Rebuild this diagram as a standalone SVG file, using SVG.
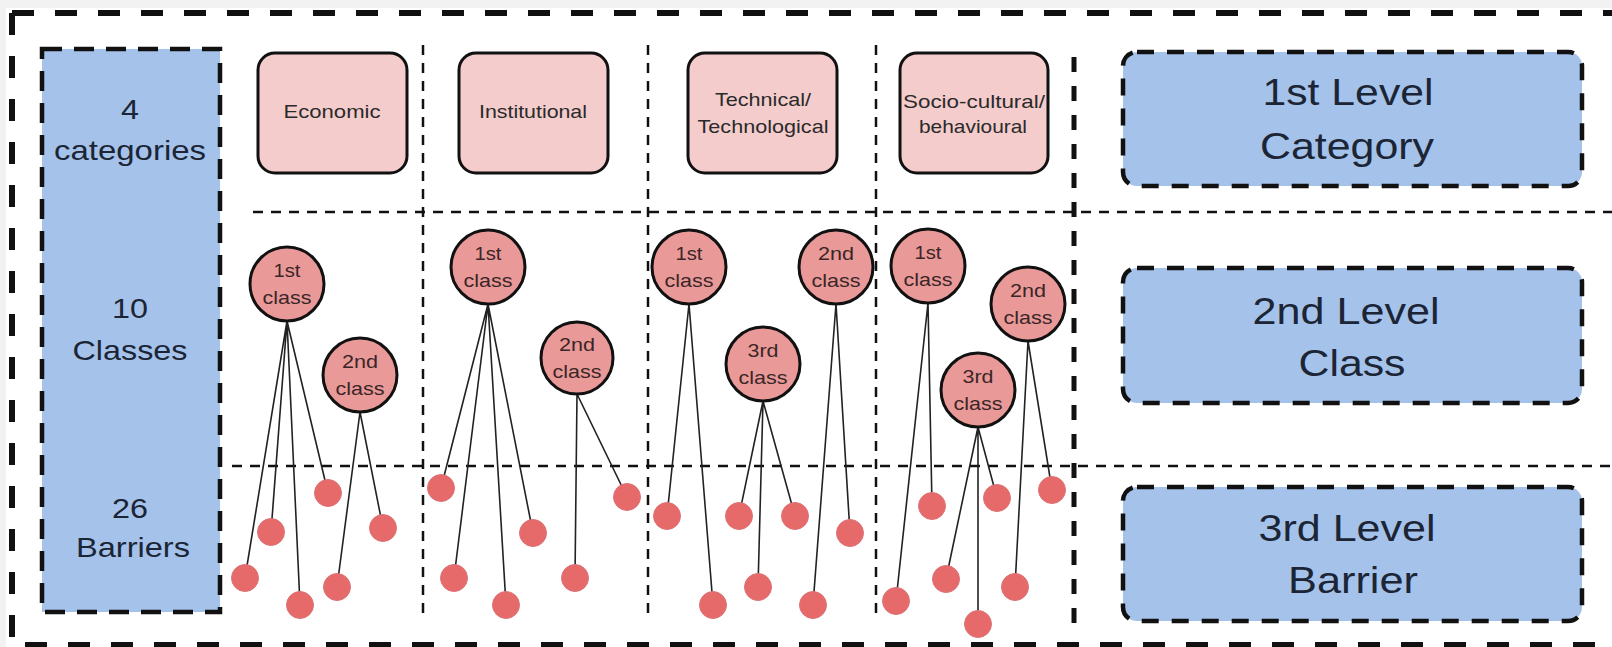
<svg xmlns="http://www.w3.org/2000/svg" width="1612" height="647" viewBox="0 0 1612 647">
<style>
.bg{fill:#f2f2f2}
.outer{fill:none;stroke:#111;stroke-width:6;stroke-dasharray:22 21}
.lbox{fill:#a4c2ea;stroke:#111;stroke-width:4.5;stroke-dasharray:20 12}
.rbox{fill:#a4c2ea;stroke:#111;stroke-width:4.5;stroke-dasharray:17 13}
.div{fill:none;stroke:#111;stroke-width:2.5;stroke-dasharray:10 8}
.thick{fill:none;stroke:#111;stroke-width:5;stroke-dasharray:15 14}
.cat{fill:#f4cccc;stroke:#111;stroke-width:3}
.cls{fill:#ea9999;stroke:#111;stroke-width:3}
.dot{fill:#e66a6a;stroke:#dc7378;stroke-width:1}
.edge{stroke:#222;stroke-width:1.6;fill:none}
text{font-family:"Liberation Sans",Arial,sans-serif;text-anchor:middle}
.big{font-size:28px;fill:#1c2535}
.lvl{font-size:37px;fill:#1c2535}
.ct{font-size:19px;fill:#2a2a2a}
.cl{font-size:19px;fill:#3a2626}
</style>
<rect class="bg" x="0" y="0" width="1612" height="647"/>
<rect x="6" y="8" width="1606" height="639" fill="#ffffff"/>

<g id="frame">
<path class="outer" d="M12,13 H1640 M12,13 V645 H1640"/>
<path class="div" d="M423,45 V620 M648,45 V620 M876,45 V620"/>
<path class="div" d="M253,212 H1612 M232,466 H1612"/>
<path class="thick" d="M1074,57 V632"/>
</g>

<g id="left-summary">
<rect class="lbox" x="42" y="49" width="178" height="563"/>
<text class="big" x="130" y="119" textLength="18" lengthAdjust="spacingAndGlyphs">4</text>
<text class="big" x="130" y="160" textLength="152" lengthAdjust="spacingAndGlyphs">categories</text>
<text class="big" x="130" y="318" textLength="36" lengthAdjust="spacingAndGlyphs">10</text>
<text class="big" x="130" y="360" textLength="115" lengthAdjust="spacingAndGlyphs">Classes</text>
<text class="big" x="130" y="518" textLength="36" lengthAdjust="spacingAndGlyphs">26</text>
<text class="big" x="133" y="557" textLength="114" lengthAdjust="spacingAndGlyphs">Barriers</text>
</g>

<g id="level1">
<rect class="rbox" x="1123" y="52" width="459" height="134" rx="14"/>
<text class="lvl" x="1348" y="105" textLength="171" lengthAdjust="spacingAndGlyphs">1st Level</text>
<text class="lvl" x="1347" y="159" textLength="174" lengthAdjust="spacingAndGlyphs">Category</text>
</g>
<g id="level2">
<rect class="rbox" x="1123" y="268" width="459" height="135" rx="14"/>
<text class="lvl" x="1346" y="324" textLength="187" lengthAdjust="spacingAndGlyphs">2nd Level</text>
<text class="lvl" x="1352" y="376" textLength="107" lengthAdjust="spacingAndGlyphs">Class</text>
</g>
<g id="level3">
<rect class="rbox" x="1123" y="487" width="459" height="134" rx="14"/>
<text class="lvl" x="1347" y="541" textLength="177" lengthAdjust="spacingAndGlyphs">3rd Level</text>
<text class="lvl" x="1353" y="593" textLength="130" lengthAdjust="spacingAndGlyphs">Barrier</text>
</g>

<g id="cat-economic">
<rect class="cat" x="258" y="53" width="149" height="120" rx="17"/>
<text class="ct" x="332" y="118" textLength="97" lengthAdjust="spacingAndGlyphs">Economic</text>
</g>
<g id="cat-institutional">
<rect class="cat" x="459" y="53" width="149" height="120" rx="17"/>
<text class="ct" x="533" y="118" textLength="108" lengthAdjust="spacingAndGlyphs">Institutional</text>
</g>
<g id="cat-technical">
<rect class="cat" x="688" y="53" width="149" height="120" rx="17"/>
<text class="ct" x="763" y="106" textLength="96" lengthAdjust="spacingAndGlyphs">Technical/</text>
<text class="ct" x="763" y="133" textLength="131" lengthAdjust="spacingAndGlyphs">Technological</text>
</g>
<g id="cat-socio">
<rect class="cat" x="900" y="53" width="148" height="120" rx="17"/>
<text class="ct" x="974" y="108" textLength="142" lengthAdjust="spacingAndGlyphs">Socio-cultural/</text>
<text class="ct" x="973" y="133" textLength="108" lengthAdjust="spacingAndGlyphs">behavioural</text>
</g>

<g id="connectors">
<!-- Economic -->
<path class="edge" d="M287,321 L328,493 M287,321 L271,532 M287,321 L245,578 M287,321 L300,605"/>
<path class="edge" d="M360,412 L383,528 M360,412 L337,587"/>
<!-- Institutional -->
<path class="edge" d="M488,304 L441,488 M488,304 L454,578 M488,304 L506,605 M488,304 L533,533"/>
<path class="edge" d="M577,394 L627,497 M577,394 L575,578"/>
<!-- Technical -->
<path class="edge" d="M689,304 L667,516 M689,304 L713,605"/>
<path class="edge" d="M763,401 L739,516 M763,401 L795,516 M763,401 L758,587"/>
<path class="edge" d="M836,304 L850,533 M836,304 L813,605"/>
<!-- Socio -->
<path class="edge" d="M928,303 L932,506 M928,303 L896,601"/>
<path class="edge" d="M978,427 L997,498 M978,427 L946,579 M978,427 L978,624"/>
<path class="edge" d="M1028,341 L1052,490 M1028,341 L1015,587"/>
</g>

<g id="econ-class1"><circle class="cls" cx="287" cy="284" r="37"/><text class="cl" x="287" y="277" textLength="27" lengthAdjust="spacingAndGlyphs">1st</text><text class="cl" x="287" y="304" textLength="49" lengthAdjust="spacingAndGlyphs">class</text></g>
<g id="econ-class2"><circle class="cls" cx="360" cy="375" r="37"/><text class="cl" x="360" y="368" textLength="36" lengthAdjust="spacingAndGlyphs">2nd</text><text class="cl" x="360" y="395" textLength="49" lengthAdjust="spacingAndGlyphs">class</text></g>
<g id="inst-class1"><circle class="cls" cx="488" cy="267" r="37"/><text class="cl" x="488" y="260" textLength="27" lengthAdjust="spacingAndGlyphs">1st</text><text class="cl" x="488" y="287" textLength="49" lengthAdjust="spacingAndGlyphs">class</text></g>
<g id="inst-class2"><circle class="cls" cx="577" cy="358" r="36"/><text class="cl" x="577" y="351" textLength="36" lengthAdjust="spacingAndGlyphs">2nd</text><text class="cl" x="577" y="378" textLength="49" lengthAdjust="spacingAndGlyphs">class</text></g>
<g id="tech-class1"><circle class="cls" cx="689" cy="267" r="37"/><text class="cl" x="689" y="260" textLength="27" lengthAdjust="spacingAndGlyphs">1st</text><text class="cl" x="689" y="287" textLength="49" lengthAdjust="spacingAndGlyphs">class</text></g>
<g id="tech-class2"><circle class="cls" cx="836" cy="267" r="37"/><text class="cl" x="836" y="260" textLength="36" lengthAdjust="spacingAndGlyphs">2nd</text><text class="cl" x="836" y="287" textLength="49" lengthAdjust="spacingAndGlyphs">class</text></g>
<g id="tech-class3"><circle class="cls" cx="763" cy="364" r="37"/><text class="cl" x="763" y="357" textLength="31" lengthAdjust="spacingAndGlyphs">3rd</text><text class="cl" x="763" y="384" textLength="49" lengthAdjust="spacingAndGlyphs">class</text></g>
<g id="socio-class1"><circle class="cls" cx="928" cy="266" r="37"/><text class="cl" x="928" y="259" textLength="27" lengthAdjust="spacingAndGlyphs">1st</text><text class="cl" x="928" y="286" textLength="49" lengthAdjust="spacingAndGlyphs">class</text></g>
<g id="socio-class2"><circle class="cls" cx="1028" cy="304" r="37"/><text class="cl" x="1028" y="297" textLength="36" lengthAdjust="spacingAndGlyphs">2nd</text><text class="cl" x="1028" y="324" textLength="49" lengthAdjust="spacingAndGlyphs">class</text></g>
<g id="socio-class3"><circle class="cls" cx="978" cy="390" r="37"/><text class="cl" x="978" y="383" textLength="31" lengthAdjust="spacingAndGlyphs">3rd</text><text class="cl" x="978" y="410" textLength="49" lengthAdjust="spacingAndGlyphs">class</text></g>

<g id="barriers">
<circle id="b1" class="dot" cx="328" cy="493" r="13.5"/>
<circle id="b2" class="dot" cx="271" cy="532" r="13.5"/>
<circle id="b3" class="dot" cx="245" cy="578" r="13.5"/>
<circle id="b4" class="dot" cx="300" cy="605" r="13.5"/>
<circle id="b5" class="dot" cx="383" cy="528" r="13.5"/>
<circle id="b6" class="dot" cx="337" cy="587" r="13.5"/>
<circle id="b7" class="dot" cx="441" cy="488" r="13.5"/>
<circle id="b8" class="dot" cx="454" cy="578" r="13.5"/>
<circle id="b9" class="dot" cx="506" cy="605" r="13.5"/>
<circle id="b10" class="dot" cx="533" cy="533" r="13.5"/>
<circle id="b11" class="dot" cx="627" cy="497" r="13.5"/>
<circle id="b12" class="dot" cx="575" cy="578" r="13.5"/>
<circle id="b13" class="dot" cx="667" cy="516" r="13.5"/>
<circle id="b14" class="dot" cx="713" cy="605" r="13.5"/>
<circle id="b15" class="dot" cx="739" cy="516" r="13.5"/>
<circle id="b16" class="dot" cx="795" cy="516" r="13.5"/>
<circle id="b17" class="dot" cx="758" cy="587" r="13.5"/>
<circle id="b18" class="dot" cx="850" cy="533" r="13.5"/>
<circle id="b19" class="dot" cx="813" cy="605" r="13.5"/>
<circle id="b20" class="dot" cx="932" cy="506" r="13.5"/>
<circle id="b21" class="dot" cx="896" cy="601" r="13.5"/>
<circle id="b22" class="dot" cx="997" cy="498" r="13.5"/>
<circle id="b23" class="dot" cx="946" cy="579" r="13.5"/>
<circle id="b24" class="dot" cx="978" cy="624" r="13.5"/>
<circle id="b25" class="dot" cx="1052" cy="490" r="13.5"/>
<circle id="b26" class="dot" cx="1015" cy="587" r="13.5"/>
</g>
</svg>
